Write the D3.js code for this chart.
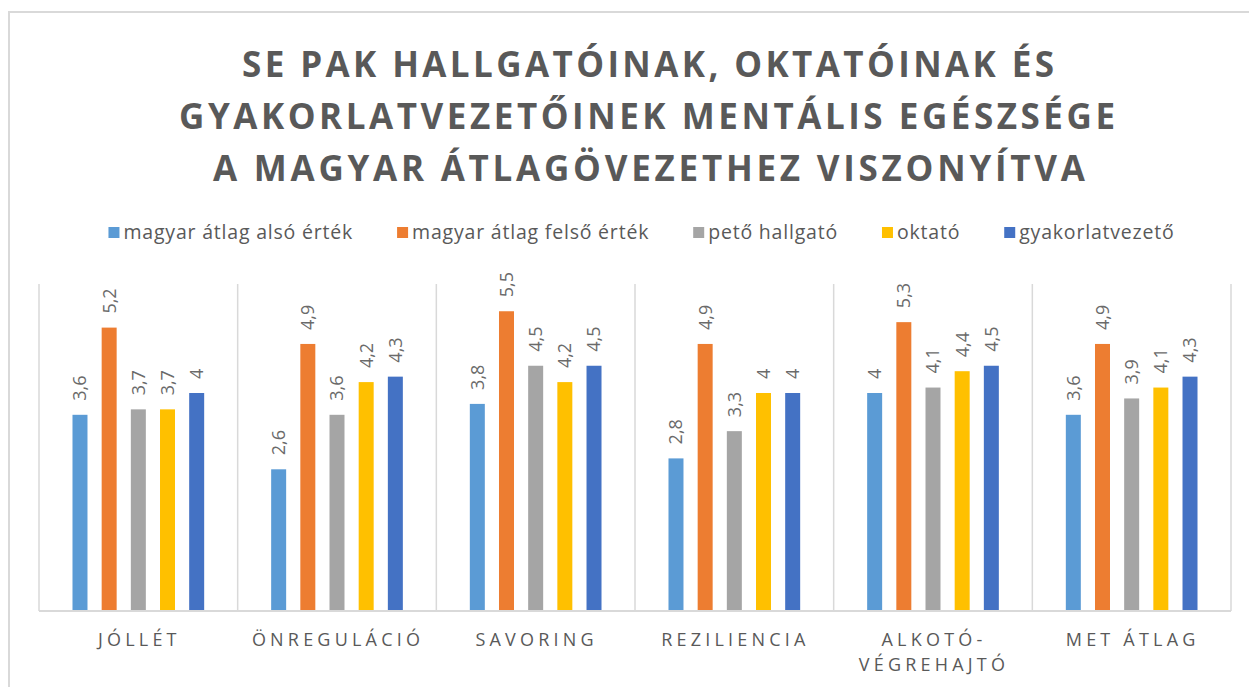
<!DOCTYPE html>
<html><head><meta charset="utf-8">
<script src="https://cdn.jsdelivr.net/npm/d3@7"></script>
<style>
html,body{margin:0;padding:0;background:#fff;}
svg{display:block;}
</style></head>
<body>
<svg id="c" width="1249" height="687"></svg>
<script>
const titleLines = ["SE PAK HALLGATÓINAK, OKTATÓINAK ÉS", "GYAKORLATVEZETŐINEK MENTÁLIS EGÉSZSÉGE", "A MAGYAR ÁTLAGÖVEZETHEZ VISZONYÍTVA"];
const categories = ["JÓLLÉT", "ÖNREGULÁCIÓ", "SAVORING", "REZILIENCIA", "ALKOTÓ-\nVÉGREHAJTÓ", "MET ÁTLAG"];
const seriesNames = ["magyar átlag alsó érték", "magyar átlag felső érték", "pető hallgató", "oktató", "gyakorlatvezető"];
const alsoErtek   = [3.6, 2.6, 3.8, 2.8, 4.0, 3.6];
const felsoErtek  = [5.2, 4.9, 5.5, 4.9, 5.3, 4.9];
const petoHallgato= [3.7, 3.6, 4.5, 3.3, 4.1, 3.9];
const oktato      = [3.7, 4.2, 4.2, 4.0, 4.4, 4.1];
const gyakorlat   = [4.0, 4.3, 4.5, 4.0, 4.5, 4.3];
const seriesValues = [alsoErtek, felsoErtek, petoHallgato, oktato, gyakorlat];
const colors = ["#5B9BD5", "#ED7D31", "#A5A5A5", "#FFC000", "#4472C4"];

const svg = d3.select("#c");
const font = "'Open Sans', sans-serif";
const txt = "#595959";

// chart border
svg.append("rect").attr("x",9).attr("y",12).attr("width",1300).attr("height",800)
  .attr("fill","none").attr("stroke","#d9d9d9").attr("stroke-width",2);

// title
const titleSpec = [{b:76.7, x0:242, x1:1054},{b:129, x0:179, x1:1115},{b:180.7, x0:213, x1:1085}];
titleLines.forEach((t,i)=>{
  const s = titleSpec[i];
  svg.append("text").attr("x", s.x0).attr("y", s.b)
    .attr("textLength", s.x1 - s.x0).attr("lengthAdjust","spacing")
    .attr("font-family", font).attr("font-weight", 700).attr("font-size", 35)
    .attr("fill", txt).text(t);
});

// legend
const lg = svg.append("g");
let lx = 0;
const legendGap = 44;
seriesNames.forEach((n,i)=>{
  const g = lg.append("g").attr("transform",`translate(${lx},0)`);
  g.append("rect").attr("x",0).attr("y",-12).attr("width",11).attr("height",11).attr("fill",colors[i]);
  const t = g.append("text").attr("x",15).attr("y",0).attr("font-family",font).attr("font-size",19.5)
    .attr("letter-spacing","0.8px").attr("fill",txt).text(n);
  const w = t.node().getComputedTextLength();
  lx += 15 + w + legendGap;
});
const totalW = lx - legendGap;
lg.attr("transform", `translate(${641.5 - totalW/2},239)`);

// plot
const pLeft = 39, pRight = 1231, pTop = 284, pBottom = 611;
const x0 = d3.scaleBand().domain(categories).range([pLeft, pRight]).padding(0);
const x1 = d3.scaleBand().domain(seriesNames).range([0, x0.bandwidth()]).paddingInner(0.486).paddingOuter(1.148);
const y = d3.scaleLinear().domain([0, 6]).range([pBottom, pTop]);

// vertical separators
const seps = categories.map(c => x0(c)).concat([pRight]);
svg.append("g").selectAll("line").data(seps).join("line")
  .attr("x1", d=>d).attr("x2", d=>d).attr("y1", pTop).attr("y2", pBottom)
  .attr("stroke","#d9d9d9").attr("stroke-width",1.5);

// bars
const groups = svg.append("g").selectAll("g").data(categories).join("g")
  .attr("transform", c => `translate(${x0(c)},0)`);
groups.each(function(c, ci){
  const g = d3.select(this);
  seriesNames.forEach((s, si)=>{
    const v = seriesValues[si][ci];
    g.append("rect").attr("x", x1(s)).attr("y", y(v)).attr("width", x1.bandwidth())
      .attr("height", y(0) - y(v)).attr("fill", colors[si]);
    const cx = x1(s) + x1.bandwidth()/2;
    const ty = y(v) - 14;
    g.append("text").attr("transform", `translate(${cx},${ty}) rotate(-90)`)
      .attr("dy","0.36em").attr("font-family",font).attr("font-size",18)
      .attr("fill","#6a6a6a").text(String(v).replace(".", ","));
  });
});

// baseline
svg.append("line").attr("x1",pLeft).attr("x2",pRight).attr("y1",pBottom).attr("y2",pBottom)
  .attr("stroke","#d9d9d9").attr("stroke-width",2);

// category labels
categories.forEach(c=>{
  const lines = c.split("\n");
  const cx = x0(c) + x0.bandwidth()/2;
  lines.forEach((ln, li)=>{
    svg.append("text").attr("x", cx + 1).attr("y", 646 + li*25)
      .attr("text-anchor","middle").attr("font-family",font).attr("font-size",18)
      .attr("letter-spacing","4.2px").attr("fill",txt).text(ln);
  });
});
</script>
</body></html>
